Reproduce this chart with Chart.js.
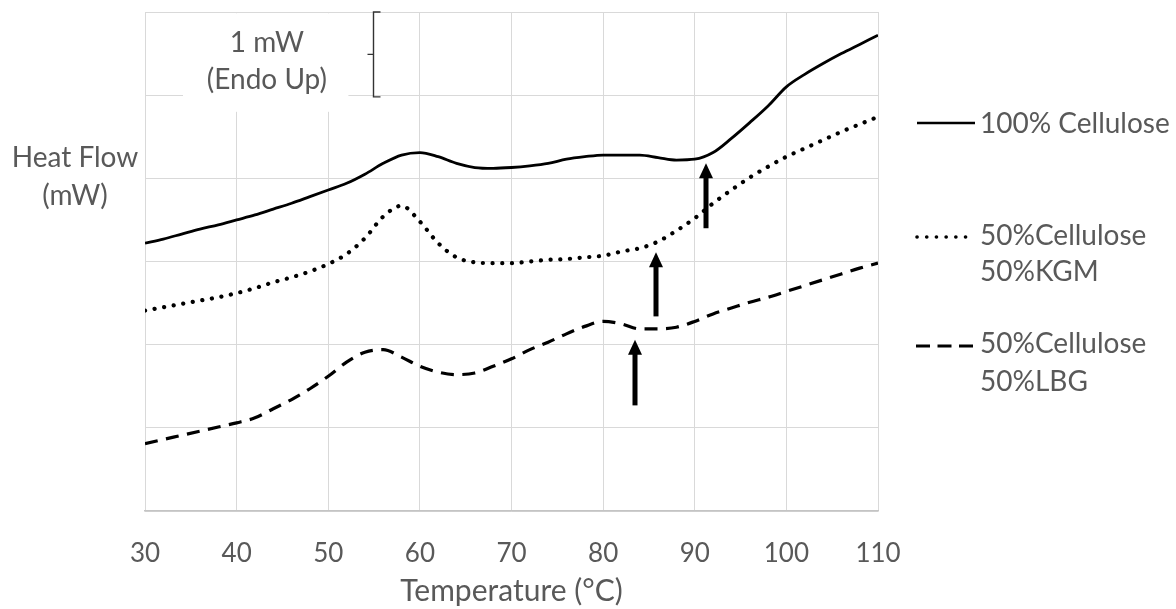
<!DOCTYPE html>
<html>
<head>
<meta charset="utf-8">
<script src="https://cdn.jsdelivr.net/npm/chart.js@4.4.1/dist/chart.umd.min.js"></script>
<style>
html,body{margin:0;padding:0;background:#ffffff;}
#wrap{width:1176px;height:609px;position:relative;}
</style>
</head>
<body>
<div id="wrap"><canvas id="c" width="1176" height="609"></canvas></div>
<script>
// ---------- DATA ----------
const temperatures = [30,32,34,36,38,40,42,44,46,48,50,52,54,56,58,60,62,64,66,68,70,72,74,76,78,80,82,84,86,88,90,92,94,96,98,100,102,104,106,108,110];
const cellulose100 = [3.22,3.27,3.33,3.39,3.44,3.50,3.56,3.63,3.70,3.78,3.86,3.94,4.05,4.18,4.28,4.31,4.26,4.18,4.13,4.12,4.13,4.15,4.18,4.23,4.26,4.28,4.28,4.28,4.25,4.22,4.23,4.31,4.48,4.67,4.87,5.10,5.25,5.38,5.50,5.61,5.72];
const cellKgm50 = [2.41,2.45,2.49,2.53,2.57,2.62,2.68,2.75,2.81,2.88,2.97,3.09,3.28,3.54,3.67,3.48,3.22,3.05,2.99,2.98,2.98,3.00,3.02,3.03,3.05,3.07,3.12,3.16,3.24,3.37,3.52,3.70,3.86,4.01,4.14,4.26,4.36,4.46,4.56,4.65,4.74];
const cellLbg50 = [0.81,0.86,0.91,0.96,1.01,1.06,1.12,1.23,1.34,1.47,1.62,1.79,1.91,1.94,1.85,1.74,1.67,1.64,1.66,1.74,1.83,1.94,2.03,2.13,2.22,2.28,2.25,2.19,2.19,2.21,2.28,2.37,2.44,2.51,2.57,2.64,2.71,2.78,2.85,2.92,2.98];
const xTickValues = [30,40,50,60,70,80,90,100,110];
const seriesLabels = [["100% Cellulose"],["50%Cellulose","50%KGM"],["50%Cellulose","50%LBG"]];
const xAxisTitle = "Temperature (°C)";
const yAxisTitle = ["Heat Flow","(mW)"];
const scaleNote = ["1 mW","(Endo Up)"];
// transition arrows: temperature, tip value, tail value
const arrowX = [91.2, 85.8, 83.5];
const arrowTip = [4.18, 3.11, 2.06];
const arrowTail = [3.40, 2.34, 1.27];

// ---------- STYLE ----------
const TEXT = '#595959';
const FONT = 'Lato, "Open Sans", sans-serif';
const styles = [
  {borderWidth: 2.8, borderDash: [], borderCapStyle: 'butt'},
  {borderWidth: 4.2, borderDash: [0.1, 9.6], borderCapStyle: 'round'},
  {borderWidth: 3.2, borderDash: [13, 8.5], borderCapStyle: 'butt'}
];
const legendDash = [[], [0.1, 9.6], [14, 7.5]];
const seriesValues = [cellulose100, cellKgm50, cellLbg50];

const datasets = seriesValues.map((vals, i) => ({
  label: seriesLabels[i].join(' '),
  data: temperatures.map((t, k) => ({x: t, y: vals[k]})),
  borderColor: '#000000',
  backgroundColor: '#000000',
  borderWidth: styles[i].borderWidth,
  borderDash: styles[i].borderDash,
  borderCapStyle: styles[i].borderCapStyle,
  borderJoinStyle: 'round',
  pointRadius: 0,
  cubicInterpolationMode: 'monotone',
  fill: false
}));

function drawArrow(ctx, px, yTail, yTip) {
  const headLen = 15, headHalf = 7, shaft = 5;
  ctx.fillStyle = '#000';
  ctx.fillRect(px - shaft / 2, yTip + headLen - 1, shaft, yTail - (yTip + headLen - 1));
  ctx.beginPath();
  ctx.moveTo(px, yTip);
  ctx.lineTo(px + headHalf, yTip + headLen);
  ctx.lineTo(px - headHalf, yTip + headLen);
  ctx.closePath();
  ctx.fill();
}

const overlay = {
  id: 'overlay',
  beforeDatasetsDraw(chart) {
    const {ctx, scales: {x, y}} = chart;
    ctx.save();
    const x0 = x.getPixelForValue(34.15), x1 = x.getPixelForValue(52.2);
    const y0 = y.getPixelForValue(5.985), y1 = y.getPixelForValue(4.8);
    ctx.fillStyle = '#ffffff';
    ctx.fillRect(x0, y0, x1 - x0, y1 - y0);
    ctx.restore();
  },
  afterDatasetsDraw(chart) {
    const {ctx, scales: {x, y}} = chart;
    ctx.save();
    arrowX.forEach((t, i) => {
      drawArrow(ctx, Math.round(x.getPixelForValue(t)), y.getPixelForValue(arrowTail[i]), y.getPixelForValue(arrowTip[i]));
    });
    ctx.restore();
  },
  afterDraw(chart) {
    const {ctx, chartArea, scales: {x, y}} = chart;
    ctx.save();
    ctx.fillStyle = TEXT;
    ctx.textAlign = 'center';
    ctx.textBaseline = 'middle';
    ctx.font = '28px ' + FONT;
    ctx.fillText(yAxisTitle[0], chartArea.left - 70, 158);
    ctx.fillText(yAxisTitle[1], chartArea.left - 70, 196);
    const nx = x.getPixelForValue(43.3);
    ctx.fillText(scaleNote[0], nx, y.getPixelForValue(5.63));
    ctx.fillText(scaleNote[1], nx, y.getPixelForValue(5.18));
    const bx = Math.round(x.getPixelForValue(54.9)) + 0.5;
    const bTop = y.getPixelForValue(6), bBot = y.getPixelForValue(4.98);
    const bMid = (bTop + bBot) / 2;
    ctx.strokeStyle = '#333333';
    ctx.lineWidth = 1.4;
    ctx.beginPath();
    ctx.moveTo(bx + 7, bTop); ctx.lineTo(bx, bTop); ctx.lineTo(bx, bBot); ctx.lineTo(bx + 7, bBot);
    ctx.moveTo(bx, bMid); ctx.lineTo(bx - 6, bMid);
    ctx.stroke();
    const L = chartArea.right;
    const rows = [
      {lineY: 123, x0: L + 39, x1: L + 97, texts: [124]},
      {lineY: 237, x0: L + 39, x1: L + 90, texts: [236, 272]},
      {lineY: 346, x0: L + 38, x1: L + 100, texts: [344, 382]}
    ];
    rows.forEach((r, i) => {
      ctx.strokeStyle = '#000';
      ctx.lineWidth = i === 1 ? 3.6 : styles[i].borderWidth * 0.9;
      ctx.lineCap = styles[i].borderCapStyle;
      ctx.setLineDash(legendDash[i]);
      ctx.beginPath();
      ctx.moveTo(r.x0, r.lineY); ctx.lineTo(r.x1, r.lineY);
      ctx.stroke();
      ctx.setLineDash([]);
      ctx.textAlign = 'left';
      ctx.fillStyle = TEXT;
      seriesLabels[i].forEach((s, k) => ctx.fillText(s, L + 102, r.texts[k]));
    });
    ctx.restore();
  }
};

new Chart(document.getElementById('c'), {
  type: 'line',
  data: {datasets},
  options: {
    responsive: false,
    animation: false,
    devicePixelRatio: 1,
    layout: {padding: {top: 12, right: 298, bottom: 0, left: 0}},
    plugins: {legend: {display: false}, tooltip: {enabled: false}},
    scales: {
      x: {
        type: 'linear',
        min: 30, max: 110,
        afterFit(s) { s.height = 98; },
        afterBuildTicks(s) { s.ticks = xTickValues.map(v => ({value: v})); },
        ticks: {color: TEXT, font: {family: FONT, size: 26}, padding: 27, maxRotation: 0},
        grid: {color: '#d9d9d9', lineWidth: 1, drawTicks: false},
        border: {color: '#c4c4c4', width: 1.5},
        title: {display: true, text: xAxisTitle, color: TEXT, font: {family: FONT, size: 30}, padding: {top: 0, bottom: 0}}
      },
      y: {
        type: 'linear',
        min: 0, max: 6,
        afterFit(s) { s.width = 145; },
        ticks: {display: false, stepSize: 1},
        grid: {color: '#d9d9d9', lineWidth: 1, drawTicks: false},
        border: {display: false}
      }
    }
  },
  plugins: [overlay]
});
</script>
</body>
</html>
